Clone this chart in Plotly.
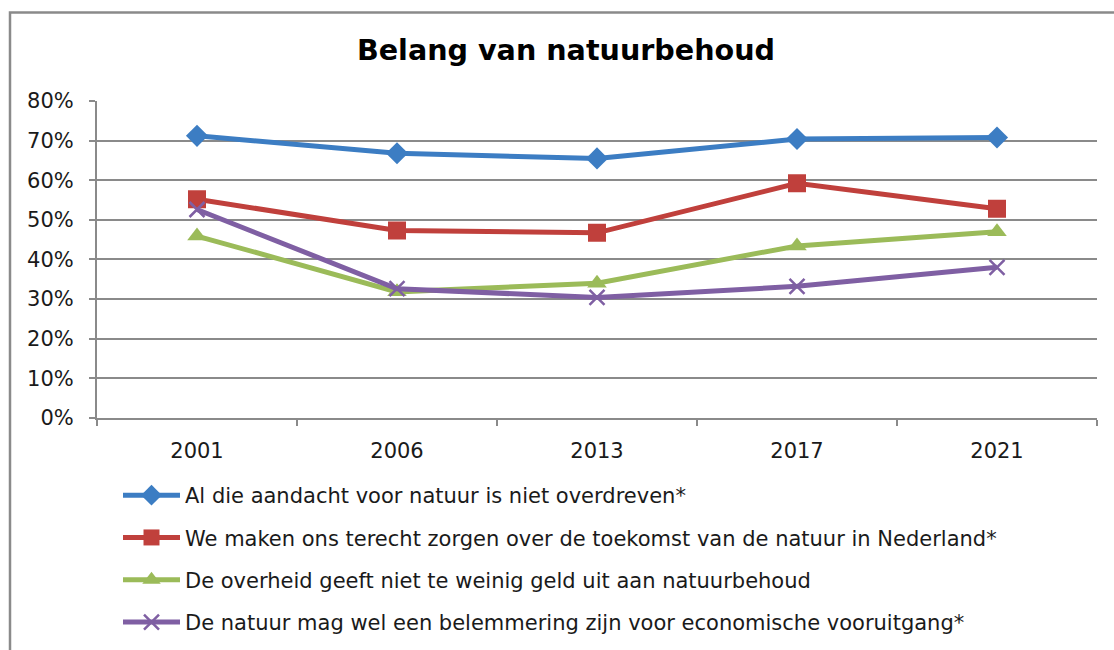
import plotly.graph_objects as go

years = ["2001", "2006", "2013", "2017", "2021"]
series_names = [
    "Al die aandacht voor natuur is niet overdreven*",
    "We maken ons terecht zorgen over de toekomst van de natuur in Nederland*",
    "De overheid geeft niet te weinig geld uit aan natuurbehoud",
    "De natuur mag wel een belemmering zijn voor economische vooruitgang*",
]
aandacht = [0.712, 0.668, 0.655, 0.704, 0.708]
zorgen = [0.552, 0.473, 0.467, 0.592, 0.528]
geld = [0.459, 0.318, 0.340, 0.434, 0.470]
belemmering = [0.526, 0.326, 0.304, 0.332, 0.380]
y_ticks = [0, 0.1, 0.2, 0.3, 0.4, 0.5, 0.6, 0.7, 0.8]
y_labels = ["0%", "10%", "20%", "30%", "40%", "50%", "60%", "70%", "80%"]

colors = ["#3C7DC3", "#C0403C", "#9BBB59", "#7F5FA3"]
symbols = ["diamond", "square", "triangle-up", "x-thin"]
sizes = [17, 18, 17, 15]
values = [aandacht, zorgen, geld, belemmering]

fig = go.Figure()
for i, (name, vals) in enumerate(zip(series_names, values)):
    marker = dict(symbol=symbols[i], size=sizes[i], color=colors[i])
    if symbols[i] == "x-thin":
        marker["line"] = dict(color=colors[i], width=2.5)
    fig.add_trace(go.Scatter(
        x=years, y=vals, name=name, mode="lines+markers",
        line=dict(color=colors[i], width=5),
        marker=marker, legendgroup=str(i),
    ))

grid_color = "#8a8a8a"
font_family = "DejaVu Sans, Verdana, sans-serif"

fig.update_layout(
    width=1114, height=650,
    margin=dict(l=97, r=17, t=101, b=230),
    paper_bgcolor="white", plot_bgcolor="white",
    font=dict(family=font_family, size=21, color="#1a1a1a"),
    title=dict(text="<b>Belang van natuurbehoud</b>", x=566 / 1114, xanchor="center",
               y=1 - 50 / 650, yanchor="middle",
               font=dict(family=font_family, size=28.6, color="black")),
    xaxis=dict(
        type="category", range=[-0.5, 4.5], showgrid=False,
        showline=True, linecolor=grid_color, linewidth=2,
        ticks="outside", tickson="boundaries", ticklen=6, tickwidth=2,
        tickcolor=grid_color, ticklabelstandoff=13, tickangle=0,
        tickfont=dict(size=21, color="#1a1a1a"),
    ),
    yaxis=dict(
        range=[0, 0.8], tickvals=y_ticks, ticktext=y_labels,
        showgrid=True, gridcolor=grid_color, gridwidth=2,
        showline=True, linecolor=grid_color, linewidth=2,
        ticks="outside", ticklen=6, tickwidth=2, tickcolor=grid_color,
        ticklabelstandoff=11, zeroline=False,
        tickfont=dict(size=21, color="#1a1a1a"),
    ),
    legend=dict(
        xref="paper", yref="container",
        x=(118 - 97) / 1000, xanchor="left", y=1 - 475 / 650, yanchor="top",
        orientation="v", tracegroupgap=12, itemwidth=57,
        font=dict(size=21, color="#1a1a1a"), bgcolor="rgba(0,0,0,0)",
    ),
    showlegend=True,
    shapes=[dict(
        type="rect", xref="paper", yref="paper",
        x0=(10 - 97) / 1000, x1=(1125 - 97) / 1000,
        y0=(420 - 670) / 319, y1=1 + (101 - 12) / 319,
        line=dict(color=grid_color, width=2.5), fillcolor="rgba(0,0,0,0)",
        layer="below",
    )],
)

fig.write_html("out.html", config={"displayModeBar": False},
               post_script="document.body.style.margin='0';")
